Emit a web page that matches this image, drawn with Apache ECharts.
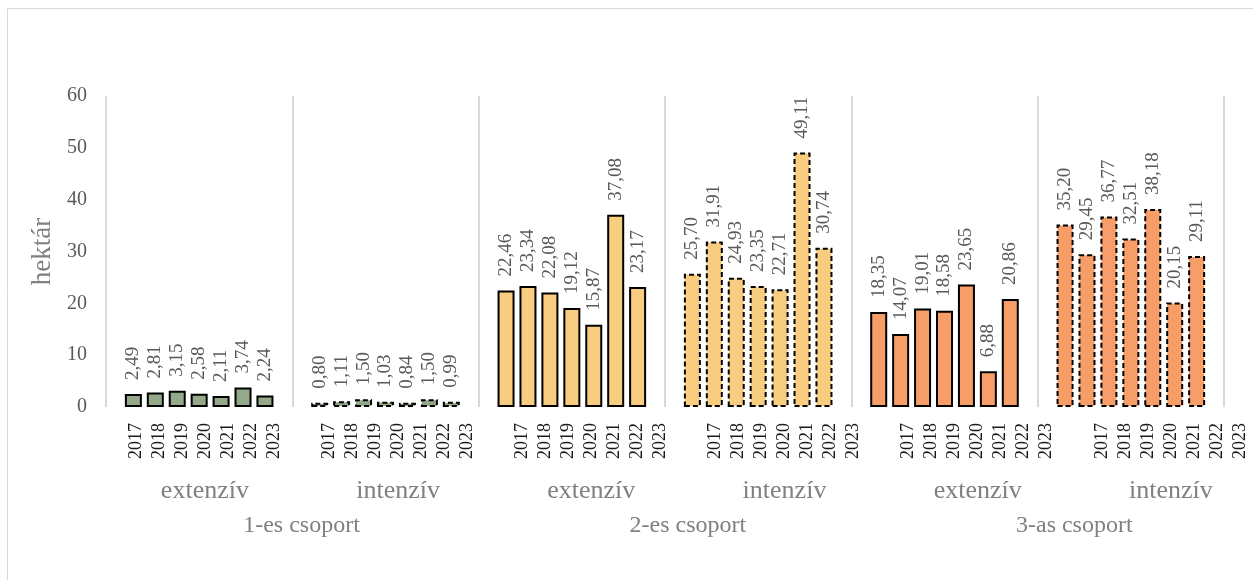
<!DOCTYPE html>
<html>
<head>
<meta charset="utf-8">
<script src="https://cdn.jsdelivr.net/npm/echarts@6/dist/echarts.min.js"></script>
<style>
  html, body { margin: 0; padding: 0; background: #fff; }
  #chart { width: 1253px; height: 580px; }
</style>
</head>
<body>
<div id="chart"></div>
<script>
// adatok
var years = ['2017', '2018', '2019', '2020', '2021', '2022', '2023'];
var types = ['extenzív', 'intenzív'];
var groups = ['1-es csoport', '2-es csoport', '3-as csoport'];

var g1Ext = [2.49, 2.81, 3.15, 2.58, 2.11, 3.74, 2.24];
var g1Int = [0.80, 1.11, 1.50, 1.03, 0.84, 1.50, 0.99];
var g2Ext = [22.46, 23.34, 22.08, 19.12, 15.87, 37.08, 23.17];
var g2Int = [25.70, 31.91, 24.93, 23.35, 22.71, 49.11, 30.74];
var g3Ext = [18.35, 14.07, 19.01, 18.58, 23.65, 6.88, 20.86];
var g3Int = [35.20, 29.45, 36.77, 32.51, 38.18, 20.15, 29.11];

var yTicks = [0, 10, 20, 30, 40, 50, 60];

var FONT = "'Liberation Serif', 'Times New Roman', serif";
var groupColors = ['#93a98a', '#f8cd7f', '#f69d68'];
var blocks = [g1Ext, g1Int, g2Ext, g2Int, g3Ext, g3Int];

// fő kategóriák (6 blokk)
var mainCats = [];
groups.forEach(function (g) {
  types.forEach(function (t) { mainCats.push(t); });
});

// a feliratok finom rácsa (Excel eltolódó feliratai)
var SLOT = 4.6, N = 247;
function emptyAxis() {
  var a = [];
  for (var i = 0; i < N; i++) a.push('');
  return a;
}
var yearAxis = emptyAxis(), typeAxis = emptyAxis(), groupAxis = emptyAxis();
for (var k = 0; k < blocks.length; k++) {
  years.forEach(function (y, j) { yearAxis[6 + 42 * k + 5 * j] = y; });
  typeAxis[6 + 42 * k + 15] = mainCats[k];
}
groups.forEach(function (g, p) { groupAxis[42 + 84 * p] = g; });

function fmt(v) { return v.toFixed(2).replace('.', ','); }

var series = years.map(function (y, j) {
  return {
    name: y,
    type: 'bar',
    xAxisIndex: 0,
    yAxisIndex: 0,
    barWidth: 17,
    barGap: '29%',
    data: blocks.map(function (b, k) {
      return {
        value: b[j],
        itemStyle: {
          color: groupColors[Math.floor(k / 2)],
          borderColor: '#000',
          borderWidth: 2,
          borderType: k % 2 ? [5, 3] : 'solid'
        }
      };
    }),
    label: {
      show: true,
      position: 'top',
      rotate: 90,
      align: 'left',
      verticalAlign: 'middle',
      distance: 14,
      fontFamily: FONT,
      fontSize: 19,
      color: '#595959',
      formatter: function (p) { return fmt(p.value); }
    }
  };
});

function labelAxis(data, offset, margin, size, color, rotate) {
  return {
    type: 'category',
    gridIndex: 1,
    position: 'bottom',
    offset: offset,
    data: data,
    axisLine: { show: false },
    axisTick: { show: false },
    splitLine: { show: false },
    axisLabel: {
      interval: 0,
      rotate: rotate,
      margin: margin,
      fontFamily: FONT,
      fontSize: size,
      color: color
    }
  };
}

var chart = echarts.init(document.getElementById('chart'));
chart.setOption({
  backgroundColor: '#fff',
  animation: false,
  graphic: [{
    type: 'rect',
    shape: { x: 7.5, y: 8.5, width: 1300, height: 620 },
    style: { fill: 'none', stroke: '#d9d9d9', lineWidth: 1 },
    z: -10
  }],
  grid: [
    { left: 106, right: 29, top: 96, bottom: 173 },
    { left: 106, top: 96, bottom: 173, width: N * SLOT }
  ],
  xAxis: [
    {
      type: 'category',
      gridIndex: 0,
      data: mainCats,
      axisLine: { show: false },
      axisTick: { show: false },
      axisLabel: { show: false },
      splitLine: { show: true, lineStyle: { color: '#d9d9d9', width: 2 } }
    },
    labelAxis(yearAxis, 0, 16, 18, '#1a1a1a', 90),
    labelAxis(typeAxis, 71, 0, 26, '#808080', 0),
    labelAxis(groupAxis, 107, 0, 24, '#808080', 0)
  ],
  yAxis: [
    {
      type: 'value',
      gridIndex: 0,
      min: yTicks[0],
      max: yTicks[yTicks.length - 1],
      interval: 10,
      axisLine: { show: false },
      axisTick: { show: false },
      splitLine: { show: false },
      axisLabel: { margin: 19, fontFamily: FONT, fontSize: 20, color: '#595959' },
      name: 'hektár',
      nameLocation: 'middle',
      nameRotate: 90,
      nameGap: 48,
      nameTextStyle: { fontFamily: FONT, fontSize: 27, color: '#808080' }
    },
    { type: 'value', gridIndex: 1, show: false, min: 0, max: 60 }
  ],
  series: series
});
</script>
</body>
</html>
